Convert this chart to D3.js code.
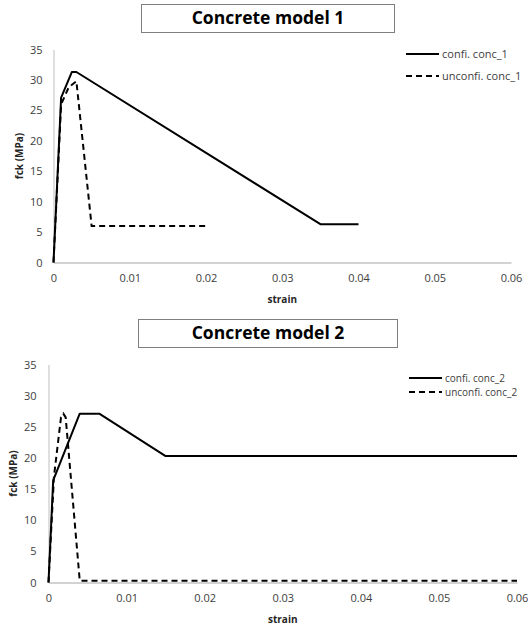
<!DOCTYPE html>
<html>
<head>
<meta charset="utf-8">
<script src="https://cdn.jsdelivr.net/npm/d3@7"></script>
<style>
  body { margin: 0; background: #fff; }
  svg { display: block; font-family: "Open Sans", "Noto Sans", sans-serif; }
</style>
</head>
<body>
<div id="chart"></div>
<script>
// stress-strain curves (strain, fck in MPa)
const confi1   = [[0, 0], [0.001, 27.1], [0.0024, 31.3], [0.003, 31.3], [0.035, 6.3], [0.04, 6.3]]
const unconfi1 = [[0, 0], [0.001, 26], [0.002, 28.8], [0.003, 29.8], [0.005, 6], [0.02, 6]]
const confi2   = [[0, 0], [0.0006, 16.4], [0.004, 27.1], [0.0065, 27.1], [0.015, 20.3], [0.06, 20.3]]
const unconfi2 = [[0, 0], [0.0007, 17], [0.0016, 26.5], [0.0019, 27.1], [0.0022, 26.5], [0.004, 0.3], [0.06, 0.3]]

const xTicks = [0, 0.01, 0.02, 0.03, 0.04, 0.05, 0.06]
const yTicks = [0, 5, 10, 15, 20, 25, 30, 35]

const W = 528, H = 628

const svg = d3.select("#chart").append("svg")
  .attr("width", W).attr("height", H)

// one panel = title box + axes + two lines + legend
function drawPanel(p) {
  const g = svg.append("g")

  // title box
  g.append("rect")
    .attr("x", p.title.x).attr("y", p.title.y)
    .attr("width", p.title.w).attr("height", p.title.h)
    .attr("fill", "#fff").attr("stroke", "#7f7f7f").attr("stroke-width", 1)
  g.append("text")
    .attr("x", p.title.x + p.title.w / 2).attr("y", p.title.y + p.title.h / 2 + 1)
    .attr("text-anchor", "middle").attr("dominant-baseline", "middle")
    .style("font-size", "17.5px").style("font-weight", "700").style("fill", "#000")
    .text(p.title.text)

  const x = d3.scaleLinear().domain([0, 0.06]).range([p.left, p.right])
  const y = d3.scaleLinear().domain([0, 35]).range([p.bottom, p.top])

  // axes (no tick marks, just labels)
  const xAxis = g.append("g")
    .attr("transform", `translate(0,${p.bottom})`)
    .call(d3.axisBottom(x).tickValues(xTicks).tickSize(0).tickPadding(12)
      .tickFormat(d => d === 0 ? "0" : d3.format(".2f")(d)))
  xAxis.select(".domain").attr("stroke", "#a6a6a6")
  xAxis.selectAll("text").style("font-size", "11px").style("fill", "#404040")
    .style("font-family", "\"Open Sans\", sans-serif")

  const yAxis = g.append("g")
    .attr("transform", `translate(${p.left},0)`)
    .call(d3.axisLeft(y).tickValues(yTicks).tickSize(0).tickPadding(p.yPad))
  yAxis.select(".domain").attr("stroke", "#bfbfbf")
  yAxis.selectAll("text").style("font-size", "11px").style("fill", "#404040")
    .style("font-family", "\"Open Sans\", sans-serif")

  // axis titles
  g.append("text")
    .attr("x", (p.left + p.right) / 2).attr("y", p.bottom + 40)
    .attr("text-anchor", "middle")
    .style("font-size", "10px").style("font-weight", "700").style("fill", "#262626")
    .text("strain")
  g.append("text")
    .attr("transform", `translate(${p.yTitleX},${(p.top + p.bottom) / 2}) rotate(-90)`)
    .attr("text-anchor", "middle")
    .style("font-size", "10px").style("font-weight", "700").style("fill", "#262626")
    .text("fck (MPa)")

  const line = d3.line().x(d => x(d[0])).y(d => y(d[1]))

  g.append("path")
    .datum(p.dashed)
    .attr("d", line)
    .attr("fill", "none").attr("stroke", "#000").attr("stroke-width", 2)
    .attr("stroke-dasharray", "6,4")

  g.append("path")
    .datum(p.solid)
    .attr("d", line)
    .attr("fill", "none").attr("stroke", "#000").attr("stroke-width", 2)
    .attr("stroke-linejoin", "round")

  // legend
  const lg = g.append("g").attr("transform", `translate(${p.legend.x},${p.legend.y})`)
  const items = [
    { label: p.legend.labels[0], dash: null, dy: 0 },
    { label: p.legend.labels[1], dash: "6,4", dy: p.legend.gap }
  ]
  items.forEach(it => {
    lg.append("line")
      .attr("x1", 0).attr("x2", 33).attr("y1", it.dy).attr("y2", it.dy)
      .attr("stroke", "#000").attr("stroke-width", 2)
      .attr("stroke-dasharray", it.dash)
    lg.append("text")
      .attr("x", 36).attr("y", it.dy + 4)
      .style("font-size", p.legend.font).style("fill", "#404040")
      .text(it.label)
  })
}

drawPanel({
  title: { x: 141.5, y: 4.5, w: 253, h: 28, text: "Concrete model 1" },
  left: 53.5, right: 511, top: 49.5, bottom: 262.5,
  yPad: 11, yTitleX: 23,
  solid: confi1, dashed: unconfi1,
  legend: { x: 406, y: 54, gap: 22, font: "11px", labels: ["confi. conc_1", "unconfi. conc_1"] }
})

drawPanel({
  title: { x: 138.5, y: 319.5, w: 259, h: 28, text: "Concrete model 2" },
  left: 48.5, right: 517, top: 364.5, bottom: 582.5,
  yPad: 12, yTitleX: 17,
  solid: confi2, dashed: unconfi2,
  legend: { x: 409, y: 378, gap: 14, font: "10px", labels: ["confi. conc_2", "unconfi. conc_2"] }
})
</script>
</body>
</html>
